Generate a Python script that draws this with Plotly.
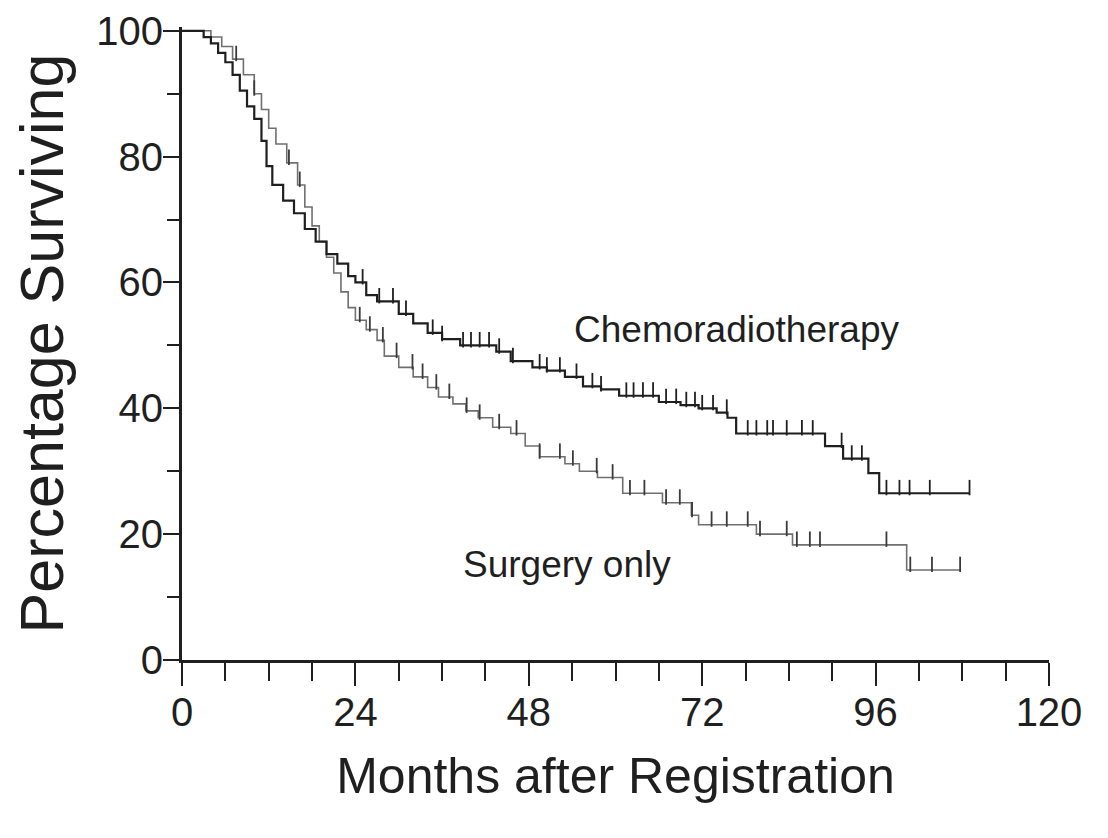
import plotly.graph_objects as go
import bisect

# ---- data ----
chemo_t = [0, 3, 4, 5, 6, 7, 8, 9, 10, 11, 11.7, 12.5, 14, 15.5, 17, 18.5, 20, 21.5, 23, 24,
           25.5, 27, 30, 32, 34, 36, 38.5, 43.5, 45.5, 48.5, 50.5, 53, 55.5, 58, 60.5, 66, 69,
           71.5, 74, 75.5, 76.7, 89, 91.5, 95, 96.5]
chemo_s = [100, 99, 98, 96.5, 95, 93, 90.5, 88, 86, 82.5, 78.5, 75.5, 73, 71, 68.5, 66.5, 64.5, 63, 61, 60,
           58, 57, 55, 53.5, 52, 51, 50, 49, 47.5, 46.5, 46, 45, 43.5, 43, 42, 41, 40.5,
           40, 39.3, 38.5, 36, 34, 32, 29.7, 26.5]
chemo_end = 109
chemo_cens = [25, 27.3, 29.2, 31, 34.7, 36, 38.9, 40, 41.2, 42.5, 43.9, 45.8, 49.5, 50.5, 52.3, 54.6,
              56.8, 58, 61.5, 62.5, 63.8, 65.2, 67, 68.4, 69.8, 71, 72, 73.5, 75.4, 78.3, 79.5, 81,
              81.8, 83.7, 85.8, 87.3, 91.3, 92.7, 94.1, 97.5, 99.3, 100.7, 103.5, 109]

surg_t = [0, 4, 5.5, 7, 8.5, 10, 11, 12, 13, 14.5, 16, 17, 18, 19, 20, 21, 22, 23, 24, 25.5, 27, 28,
          30, 32, 34, 35.5, 37.5, 39.3, 41, 43, 45.5, 47.5, 49.5, 53, 55, 57.5, 61, 66.5, 70.5,
          71.5, 79.5, 84.5, 100.3]
surg_s = [100, 99, 97.5, 95.5, 93, 90, 87.5, 84.5, 82, 79, 75.5, 72, 69, 66.5, 64, 61.5, 58.5, 56, 54,
          52.5, 50.8, 48.3, 46.5, 45, 43.3, 41.8, 40.7, 39.6, 38.5, 37, 36, 34, 32.3, 31.2, 30, 29,
          26.5, 25, 23, 21.5, 20, 18.3, 14.3]
surg_end = 107.7
surg_cens = [7.5, 10, 14.8, 16.3, 24.6, 26, 27.8, 29.7, 31.9, 33.3, 35.2, 37, 39.4, 41.2, 43.9, 46.3,
             49.5, 52.3, 54.1, 57.4, 59.6, 62, 64, 67, 68.9, 70.6, 73.3, 75.4, 78.3, 80, 83.7, 85.1,
             86.9, 88.3, 97.5, 100.8, 103.8, 107.7]

x_ticks = [0, 24, 48, 72, 96, 120]
y_ticks = [0, 20, 40, 60, 80, 100]
label_chemo = "Chemoradiotherapy"
label_surg = "Surgery only"

FONT = "Liberation Sans, Arial, Helvetica, sans-serif"
INK = "#1f1f1f"


def step_value(ts, ss, t):
    i = bisect.bisect_right(ts, t) - 1
    return ss[max(i, 0)]


fig = go.Figure()


def add_curve(ts, ss, end, cens, color, width, tickcolor):
    fig.add_trace(go.Scatter(x=ts + [end], y=ss + [ss[-1]], mode="lines",
                             line=dict(color=color, width=width, shape="hv"),
                             hoverinfo="skip", showlegend=False))
    cy = [step_value(ts, ss, c) + 0.9 for c in cens]
    fig.add_trace(go.Scatter(x=cens, y=cy, mode="markers",
                             marker=dict(symbol="line-ns", size=11,
                                         line=dict(color=tickcolor, width=1.8)),
                             hoverinfo="skip", showlegend=False, cliponaxis=False))


add_curve(surg_t, surg_s, surg_end, surg_cens, "#707070", 1.6, "#3a3a3a")
add_curve(chemo_t, chemo_s, chemo_end, chemo_cens, INK, 2.2, INK)

fig.add_annotation(x=76.8, y=52.6, text=label_chemo, showarrow=False,
                   font=dict(family=FONT, size=37, color=INK))
fig.add_annotation(x=53.3, y=15.2, text=label_surg, showarrow=False,
                   font=dict(family=FONT, size=37, color=INK))

# page body adds an 8px offset; margins compensate so the plot area lands where the reference has it
fig.update_layout(
    width=1108, height=838,
    margin=dict(l=174, r=67, t=19, b=186),
    paper_bgcolor="white", plot_bgcolor="white",
    font=dict(family=FONT, color=INK),
    xaxis=dict(range=[0, 120], tickvals=x_ticks, ticktext=[str(v) for v in x_ticks],
               ticks="outside", ticklen=23, tickwidth=2, tickcolor=INK, ticklabelstandoff=-8,
               minor=dict(dtick=6, tick0=0, ticks="outside", ticklen=18, tickwidth=2, tickcolor=INK),
               showline=True, linecolor=INK, linewidth=3, showgrid=False, zeroline=False,
               tickfont=dict(family=FONT, size=40, color=INK), automargin=False,
               title=dict(text="Months after Registration", font=dict(family=FONT, size=50, color=INK),
                          standoff=25)),
    yaxis=dict(range=[0, 100.6], tickvals=y_ticks, ticktext=[str(v) for v in y_ticks],
               ticks="outside", ticklen=16, tickwidth=2, tickcolor=INK, ticklabelstandoff=-8,
               minor=dict(dtick=10, tick0=0, ticks="outside", ticklen=12, tickwidth=2, tickcolor=INK),
               showline=True, linecolor=INK, linewidth=3, showgrid=False, zeroline=False,
               tickfont=dict(family=FONT, size=40, color=INK), automargin=False,
               title=dict(text="Percentage Surviving", font=dict(family=FONT, size=61, color=INK),
                          standoff=32)),
)

fig.write_html("out.html")
